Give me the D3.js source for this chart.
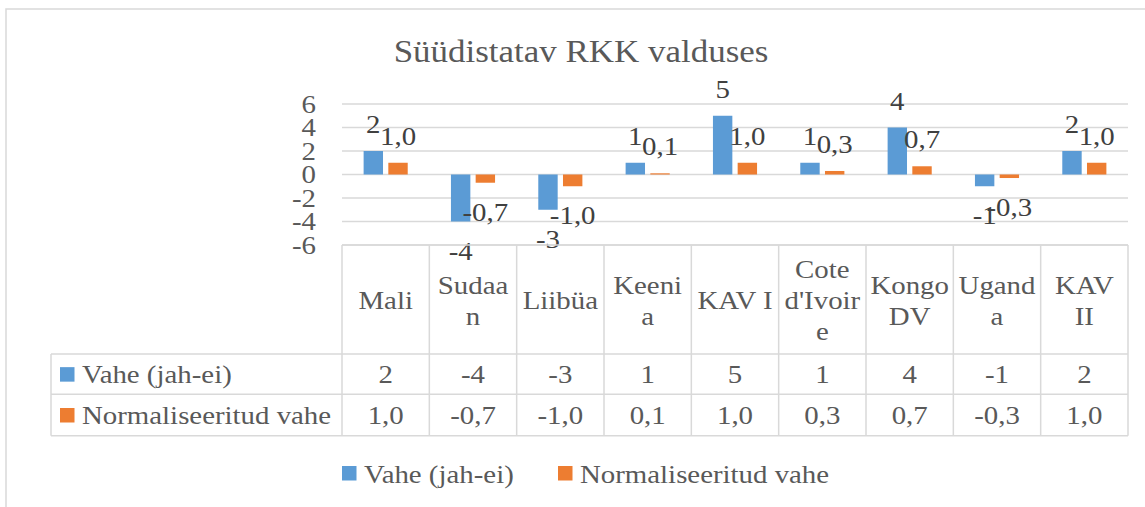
<!DOCTYPE html>
<html>

<head>
    <meta charset="UTF-8" />
    <script src="https://d3js.org/d3.v7.min.js"></script>
    <style>
        body { margin: 0; background: #fff; }
        text { font-family: "Liberation Serif", "Times New Roman", serif; }
    </style>
</head>

<body>
    <script>
        const categories = ["Mali", "Sudaan", "Liibüa", "Keenia", "KAV I", "Cote d'Ivoire", "Kongo DV", "Uganda", "KAV II"];
        const seriesNames = ["Vahe (jah-ei)", "Normaliseeritud vahe"];
        const vahe = [2, -4, -3, 1, 5, 1, 4, -1, 2];
        const normVahe = [1.0, -0.7, -1.0, 0.1, 1.0, 0.3, 0.7, -0.3, 1.0];
        const yTicks = [-6, -4, -2, 0, 2, 4, 6];
        const colors = ["#5b9bd5", "#ed7d31"];
        const title = "Süüdistatav RKK valduses";

        const width = 1145, height = 507;
        const sx = 1.11; // the original text is a bit wide
        const fs = 26;
        const grid = "#d9d9d9";

        // plain hyphen minus and decimal comma, like the original
        const loc = d3.formatLocale({ decimal: ",", thousands: " ", grouping: [3], currency: ["", ""], minus: "-" });
        const fmt = [loc.format("d"), loc.format(".1f")];
        const series = [vahe, normVahe];

        let svg = d3.select("body")
            .append("svg")
            .attr("width", width)
            .attr("height", height);

        function txt(g, x, y, s, anchor, size, color) {
            return g.append("text")
                .attr("transform", `translate(${x},${y}) scale(${sx},1)`)
                .attr("text-anchor", anchor)
                .attr("font-size", size)
                .attr("fill", color)
                .text(s);
        }

        // outer frame (cut by the picture on right and bottom)
        svg.append("rect")
            .attr("x", 6).attr("y", 9)
            .attr("width", 1300).attr("height", 700)
            .attr("fill", "#fff")
            .attr("stroke", grid).attr("stroke-width", 1.5);

        txt(svg, 581, 62, title, "middle", 31.5, "#595959");

        let x = d3.scaleBand()
            .domain(categories)
            .range([342, 1128]);

        let xs = d3.scaleBand()
            .domain([0, 1])
            .range([0, x.bandwidth()])
            .paddingInner(0.215)
            .paddingOuter(0.875);

        let y = d3.scaleLinear()
            .domain([-6, 6])
            .range([245, 104]);

        // gridlines
        svg.append("g")
            .selectAll("line")
            .data(yTicks)
            .join("line")
            .attr("x1", 342).attr("x2", 1128)
            .attr("y1", d => y(d)).attr("y2", d => y(d))
            .attr("stroke", grid).attr("stroke-width", 1.5);

        let yAxis = svg.append("g")
            .attr("transform", "translate(342,0)")
            .call(d3.axisLeft(y).tickValues(yTicks).tickFormat(fmt[0]).tickSize(0).tickPadding(26));
        yAxis.select(".domain").remove();
        yAxis.selectAll("text")
            .attr("x", -26 / sx)
            .attr("transform", `scale(${sx},1)`)
            .attr("font-size", fs)
            .attr("font-family", null)
            .attr("fill", "#595959");

        // bars
        series.forEach((vals, s) => {
            svg.append("g")
                .selectAll("rect")
                .data(vals)
                .join("rect")
                .attr("x", (d, i) => x(categories[i]) + xs(s))
                .attr("width", xs.bandwidth())
                .attr("y", d => y(Math.max(0, d)))
                .attr("height", d => Math.abs(y(d) - y(0)))
                .attr("fill", colors[s]);
        });

        // data labels
        series.forEach((vals, s) => {
            let g = svg.append("g");
            vals.forEach((d, i) => {
                let cx = x(categories[i]) + xs(s) + xs.bandwidth() / 2;
                let ty = d >= 0 ? y(d) - 18 : y(d) + 38;
                txt(g, cx, ty, fmt[s](d), "middle", fs, "#404040");
            });
        });

        // data table
        const tLeft = 51, tTop = 245, hdrBottom = 354, rowBottoms = [394.3, 435.7];
        let table = svg.append("g");
        let hLines = [[342, tTop], [tLeft, hdrBottom], [tLeft, rowBottoms[0]], [tLeft, rowBottoms[1]]];
        table.selectAll(".h")
            .data(hLines)
            .join("line")
            .attr("x1", d => d[0]).attr("x2", 1128)
            .attr("y1", d => d[1]).attr("y2", d => d[1])
            .attr("stroke", grid).attr("stroke-width", 1.5);
        let vx = categories.map(c => x(c)).concat([1128]);
        table.selectAll(".v")
            .data(vx)
            .join("line")
            .attr("x1", d => d).attr("x2", d => d)
            .attr("y1", tTop).attr("y2", rowBottoms[1])
            .attr("stroke", grid).attr("stroke-width", 1.5);
        table.append("line")
            .attr("x1", tLeft).attr("x2", tLeft)
            .attr("y1", hdrBottom).attr("y2", rowBottoms[1])
            .attr("stroke", grid).attr("stroke-width", 1.5);

        // wrap category names like the table cells do
        let probe = svg.append("text").attr("font-size", fs);
        function w(s) {
            probe.text(s);
            return probe.node().getComputedTextLength() * sx;
        }
        function wrap(label, maxW) {
            let lines = [];
            let words = label.split(" ");
            let cur = "";
            words.forEach(word => {
                let tryLine = cur ? cur + " " + word : word;
                if (w(tryLine) <= maxW) { cur = tryLine; return; }
                if (cur) lines.push(cur);
                cur = "";
                let rest = word;
                while (w(rest) > maxW) {
                    let k = rest.length;
                    while (k > 1 && w(rest.slice(0, k)) > maxW) k--;
                    lines.push(rest.slice(0, k));
                    rest = rest.slice(k);
                }
                cur = rest;
            });
            if (cur) lines.push(cur);
            return lines;
        }

        const hdrMid = (tTop + hdrBottom) / 2;
        categories.forEach(c => {
            let lines = wrap(c, 80.5);
            let cx = x(c) + x.bandwidth() / 2;
            lines.forEach((ln, j) => {
                let ty = hdrMid + 9.5 + (j - (lines.length - 1) / 2) * 31;
                txt(table, cx, ty, ln, "middle", fs, "#595959");
            });
        });
        probe.remove();

        let rowTops = [hdrBottom, rowBottoms[0]];
        series.forEach((vals, s) => {
            let mid = (rowTops[s] + rowBottoms[s]) / 2;
            table.append("rect")
                .attr("x", 60).attr("y", mid - 7)
                .attr("width", 14.5).attr("height", 14.5)
                .attr("fill", colors[s]);
            txt(table, 82, mid + 9, seriesNames[s], "start", fs, "#595959");
            vals.forEach((d, i) => {
                txt(table, x(categories[i]) + x.bandwidth() / 2, mid + 9, fmt[s](d), "middle", fs, "#595959");
            });
        });

        // legend
        const legendX = [342, 558];
        seriesNames.forEach((name, s) => {
            svg.append("rect")
                .attr("x", legendX[s]).attr("y", 466)
                .attr("width", 14.5).attr("height", 14.5)
                .attr("fill", colors[s]);
            txt(svg, legendX[s] + 22, 483, name, "start", fs, "#595959");
        });
    </script>
</body>

</html>
